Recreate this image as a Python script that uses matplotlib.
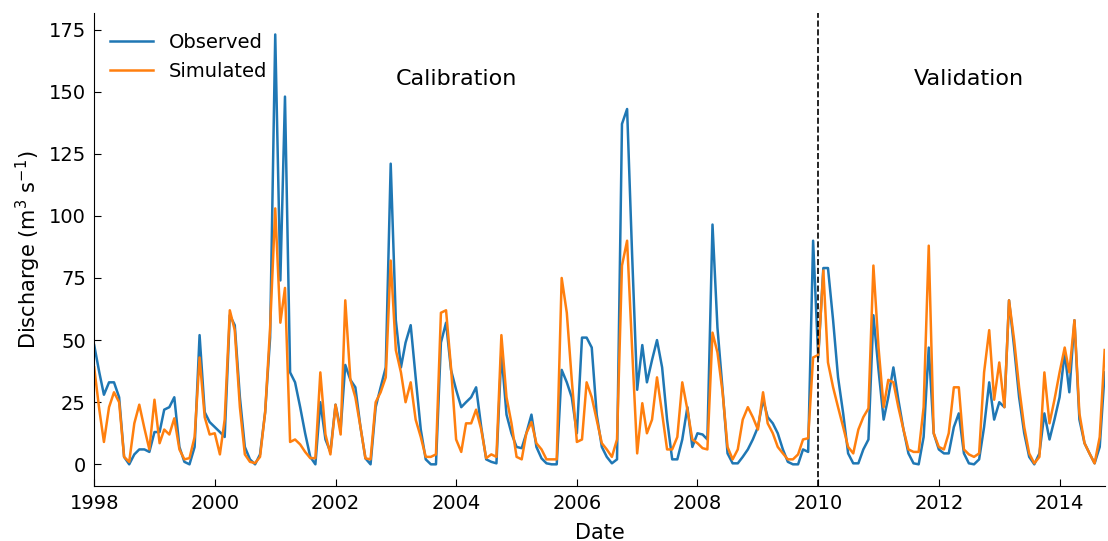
import matplotlib
matplotlib.use('Agg')
import matplotlib.pyplot as plt
import matplotlib.dates as mdates
import pandas as pd

# monthly discharge, Jan 1998 - Oct 2014
observed = [48, 37, 28, 33, 33, 27, 3, 0, 4, 6, 6, 5,
            13, 13, 22, 23, 27, 7, 1, 0, 7, 52, 21, 17,
            15, 13, 11, 60, 56, 27, 7, 2, 0, 4, 21, 51,
            173, 74, 148, 37, 33, 23, 12.5, 3, 0, 25, 10, 5,
            24, 14, 40, 34, 31, 15, 2.4, 0, 23, 31, 39, 121,
            58, 39, 49, 56, 35, 14, 2, 0, 0, 49, 57, 38,
            30, 23, 25, 27, 31, 15, 2, 1, 0.4, 45, 20, 12.5,
            7, 6.5, 12.5, 20, 7, 2.4, 0.4, 0, 0, 38, 33, 27,
            12.5, 51, 51, 47, 20, 7, 3, 0.4, 2, 137, 143, 85,
            30, 48, 33, 42, 50, 39, 18, 2, 2, 10, 23, 7,
            12.5, 12, 10, 96.5, 55, 30, 4.4, 0.4, 0.4, 3, 6, 10,
            15, 26, 19, 16.5, 12.5, 6, 1, 0, 0, 6, 5, 90,
            43, 79, 79, 58, 35, 20.5, 4.4, 0.4, 0.4, 6, 10, 60,
            38, 18, 27, 39, 26, 14, 4.4, 0.4, 0, 11, 47, 12.5,
            6, 4.4, 4.4, 15, 20.5, 4.4, 0.4, 0, 2, 15, 33, 18,
            25, 23, 66, 47, 27, 12.5, 3, 0, 4.4, 20.5, 10, 18,
            27, 45, 29, 58, 18, 8.5, 4.4, 0.4, 7, 37]

simulated = [39, 22, 9, 23, 29, 25, 3, 1, 16.5, 24, 14.5, 6,
             26, 8.5, 14, 12, 18.5, 6, 2, 2.5, 11, 43, 19, 12,
             12.5, 4, 18, 62, 54, 23, 4, 1, 0.5, 3, 21, 55,
             103, 57, 71, 9, 10, 8, 5, 2.5, 2.5, 37, 12, 4,
             24, 12, 66, 34, 27, 15, 2.4, 2, 25, 29, 35, 82,
             46, 37, 25, 33, 18, 11, 3, 3, 4, 61, 62, 39,
             10, 5, 16.5, 16.5, 22, 14, 2.5, 4, 3, 52, 27, 16.5,
             3, 2, 12.5, 17, 8.5, 6, 2, 2, 2, 75, 61, 34,
             9, 10, 33, 27, 18, 8.5, 6, 3, 10, 80, 90, 47,
             4.4, 24.6, 12.5, 18, 35, 20.5, 6, 6, 11, 33, 22, 10,
             8.5, 6.5, 6, 53, 45, 29, 7, 2, 6, 18, 23, 19,
             14, 29, 16.5, 12.5, 7, 4.4, 2, 2, 4, 10, 10.5, 43,
             44, 78, 41, 31, 23, 15, 7, 4.4, 14, 19, 22.5, 80,
             47, 23, 34, 33, 23, 14, 6, 5, 5, 23, 88, 12.5,
             7, 6, 12.5, 31, 31, 6, 4, 3, 4.4, 37, 54, 26,
             41, 23, 66, 50, 31, 15, 4.4, 0.4, 3, 37, 16.5, 26,
             37, 47, 37, 58, 20.5, 8.5, 4.4, 0.4, 11, 46]

dates = pd.date_range('1998-01-01', periods=len(observed), freq='MS')
split_date = pd.Timestamp('2010-01-01')

fig = plt.figure(figsize=(11.08, 5.41), dpi=100)
ax = fig.add_axes([0.085, 0.102, 0.912, 0.874])

ax.plot(dates, observed, color='#1f77b4', lw=1.8, label='Observed')
ax.plot(dates, simulated, color='#ff7f0e', lw=1.8, label='Simulated')
ax.axvline(split_date, color='black', ls='--', lw=1.2)

ax.text(pd.Timestamp('2004-01-01'), 155, 'Calibration', fontsize=16, ha='center', va='center')
ax.text(pd.Timestamp('2012-07-01'), 155, 'Validation', fontsize=16, ha='center', va='center')

ax.set_xlim(dates[0], dates[-1])
ax.set_yticks(range(0, 176, 25))
ax.xaxis.set_major_locator(mdates.YearLocator(2))
ax.xaxis.set_major_formatter(mdates.DateFormatter('%Y'))
ax.tick_params(direction='in', labelsize=14, length=5, pad=6)

ax.spines['top'].set_visible(False)
ax.spines['right'].set_visible(False)

ax.set_xlabel('Date', fontsize=15, labelpad=7)
ax.set_ylabel('Discharge (m$^3$ s$^{-1}$)', fontsize=15, labelpad=4)
ax.legend(loc='upper left', frameon=False, fontsize=14, handlelength=2.2,
          labelspacing=0.5, borderaxespad=0, bbox_to_anchor=(0.008, 0.974))

fig.savefig('out.png', dpi=100)
